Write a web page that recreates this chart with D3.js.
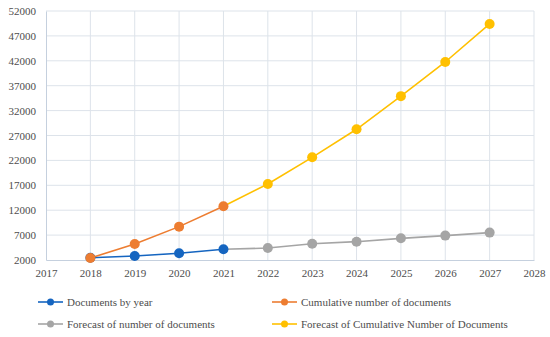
<!DOCTYPE html>
<html><head><meta charset="utf-8">
<script src="https://d3js.org/d3.v7.min.js"></script>
<style>body{margin:0;background:#fff}</style>
</head><body><svg id="c" width="550" height="337"></svg>
<script>
const years = [2018,2019,2020,2021,2022,2023,2024,2025,2026,2027];
const docsByYear = [2450, 2800, 3350, 4150];
const docsYears = [2018,2019,2020,2021];
const cumulative = [2400, 5200, 8700, 12800];
const cumYears = [2018,2019,2020,2021];
const forecastDocs = [4150, 4400, 5270, 5680, 6350, 6900, 7500];
const forecastDocsYears = [2021,2022,2023,2024,2025,2026,2027];
const forecastCum = [12800, 17250, 22620, 28250, 34900, 41760, 49400];
const forecastCumYears = [2021,2022,2023,2024,2025,2026,2027];
const xTicks = [2017,2018,2019,2020,2021,2022,2023,2024,2025,2026,2027,2028];
const yTicks = [2000,7000,12000,17000,22000,27000,32000,37000,42000,47000,52000];
const seriesNames = ["Documents by year","Cumulative number of documents","Forecast of number of documents","Forecast of Cumulative Number of Documents"];
const colors = ["#1565c0","#ed7d31","#a5a5a5","#ffc000"];
const FONT = "'Liberation Serif', 'DejaVu Serif', serif";

const svg = d3.select("#c");
const x = d3.scaleLinear().domain([2017,2028]).range([46,534]);
const y = d3.scaleLinear().domain([2000,52000]).range([260,11]);

svg.append("g").selectAll("line").data(yTicks.slice(1)).join("line")
  .attr("x1",x(2017)).attr("x2",x(2028)).attr("y1",d=>y(d)).attr("y2",d=>y(d))
  .attr("stroke","#dde3ea").attr("stroke-width",1);
svg.append("g").selectAll("line").data(xTicks.slice(1)).join("line")
  .attr("x1",d=>x(d)).attr("x2",d=>x(d)).attr("y1",y(2000)).attr("y2",y(52000))
  .attr("stroke","#dde3ea").attr("stroke-width",1);

const xAxis = svg.append("g").attr("transform",`translate(0,${y(2000)})`)
  .call(d3.axisBottom(x).tickValues(xTicks).tickFormat(d3.format("d")).tickSize(0).tickPadding(9));
const yAxis = svg.append("g").attr("transform",`translate(${x(2017)},0)`)
  .call(d3.axisLeft(y).tickValues(yTicks).tickFormat(d3.format("d")).tickSize(0).tickPadding(10));
[xAxis,yAxis].forEach(a=>{
  a.attr("font-family",null);
  a.select(".domain").attr("stroke","#c5d0de").attr("stroke-width",1);
  a.selectAll("text").style("font-size","11px").style("fill","#4d4d4d").style("font-family",FONT);
});

const line = d3.line().x(d=>x(d[0])).y(d=>y(d[1]));
const series = [
  {xs: forecastDocsYears, ys: forecastDocs, c: colors[2]},
  {xs: forecastCumYears, ys: forecastCum, c: colors[3]},
  {xs: docsYears, ys: docsByYear, c: colors[0]},
  {xs: cumYears, ys: cumulative, c: colors[1]},
];
series.forEach((s,i)=>{
  const pts = s.xs.map((xx,j)=>[xx,s.ys[j]]);
  svg.append("path").datum(pts).attr("d",line).attr("fill","none").attr("stroke",s.c).attr("stroke-width",1.6);
});
series.forEach((s,i)=>{
  const pts = s.xs.map((xx,j)=>[xx,s.ys[j]]);
  const drawPts = (i<2) ? pts.slice(1) : pts;
  svg.append("g").selectAll("circle").data(drawPts).join("circle")
    .attr("cx",d=>x(d[0])).attr("cy",d=>y(d[1])).attr("r",5).attr("fill",s.c);
});

const legPos = [[38,302],[272,302],[38,324],[272,324]];
seriesNames.forEach((n,i)=>{
  const [lx,ly] = legPos[i];
  const g = svg.append("g");
  g.append("line").attr("x1",lx).attr("x2",lx+25).attr("y1",ly).attr("y2",ly).attr("stroke",colors[i]).attr("stroke-width",1.6);
  g.append("circle").attr("cx",lx+12.5).attr("cy",ly).attr("r",3.5).attr("fill",colors[i]);
  g.append("text").attr("x",lx+29).attr("y",ly+4).style("font-size","11px").style("fill","#4d4d4d").style("font-family",FONT).text(n);
});
</script></body></html>
